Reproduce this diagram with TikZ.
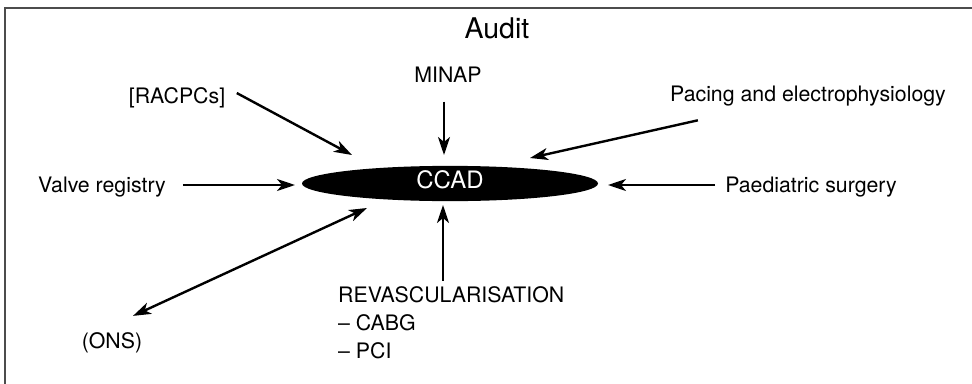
\documentclass[tikz,border=0pt]{standalone}
\usepackage{fontspec}
\setmainfont{TeX Gyre Heros}
\usetikzlibrary{shapes.geometric,arrows.meta,calc}
\tikzset{
  >={Stealth[length=18pt,width=12pt,inset=5pt]},
  txt/.style={inner sep=0pt, anchor=base, font=\fontsize{21.3}{28}\selectfont},
  arr/.style={line width=2.4pt, ->},
  hub/.style={ellipse, fill=black, text=white, inner sep=0pt, text depth=7pt,
    minimum width=296pt, minimum height=35pt, font=\fontsize{24}{28}\selectfont}
}
\begin{document}
\begin{tikzpicture}[x=1pt,y=-1pt]
\useasboundingbox (0,0) rectangle (972,383);
% frame
\draw[gray!60!black, line width=1.6pt] (980,8) -- (5,8) -- (5,390);
\node[txt, font=\fontsize{28.5}{30}\selectfont] (audit) at (497,38) {Audit};
% centre
\node[hub] (ccad) at (450,183.5) {CCAD};
% sources
\node[txt] (minap) at (448,82.5) {MINAP};
\node[txt] (racpcs) at (177,103) {[RACPCs]};
\node[txt] (valve) at (102,192) {Valve registry};
\node[txt] (pacing) at (808,101) {Pacing and electrophysiology};
\node[txt] (paed) at (811,192) {Paediatric surgery};
\node[txt] (ons) at (112,348) {(ONS)};
\node[txt, align=left, anchor=north west] (revasc) at (338,286.5) {REVASCULARISATION\\-- CABG\\-- PCI};
% arrow ends near the centre
\coordinate (minap-in) at (444,155);
\coordinate (racpcs-in) at (352,155);
\coordinate (valve-in) at (295,185);
\coordinate (pacing-in) at (530,158);
\coordinate (paed-in) at (608,185);
\coordinate (ons-in) at (367,208);
\coordinate (revasc-in) at (443,205);
% connectors
\draw[arr, shorten <=19pt] (minap.south -| minap-in) -- (minap-in);
\draw[arr, shorten <=13pt] (racpcs.north east) -- (racpcs-in);
\draw[arr, shorten <=17pt] (valve.east |- valve-in) -- (valve-in);
\draw[arr, shorten <=66pt] (pacing) -- (pacing-in);
\draw[arr, shorten <=10pt] (paed.west |- paed-in) -- (paed-in);
\draw[arr, <->] ($(ons.north)+(21,-16)$) -- (ons-in);
\draw[arr, shorten <=6pt] (revasc.north -| revasc-in) -- (revasc-in);
\end{tikzpicture}
\end{document}
